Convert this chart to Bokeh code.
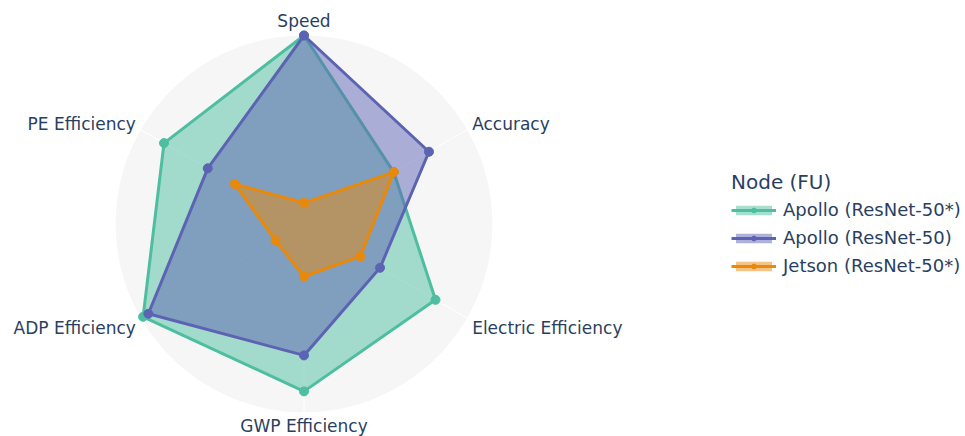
import numpy as np
from bokeh.plotting import figure
from bokeh.models import Range1d, Legend, LegendItem, ColumnDataSource
from bokeh.embed import file_html
from bokeh.resources import INLINE

# ---------------- data ----------------
categories = ["Speed", "Accuracy", "Electric Efficiency", "GWP Efficiency",
              "ADP Efficiency", "PE Efficiency"]
series_names = ["Apollo (ResNet-50*)", "Apollo (ResNet-50)", "Jetson (ResNet-50*)"]
apollo_star = [1.0, 0.55, 0.806, 0.889, 0.986, 0.858]
apollo = [1.0, 0.766, 0.466, 0.698, 0.954, 0.59]
jetson = [0.112, 0.55, 0.345, 0.279, 0.175, 0.424]
radial_max = 1.0

series_values = [apollo_star, apollo, jetson]
colors = ["#4dbe9f", "#5d63b3", "#e8890c"]
TEXT = "#2a3f5f"
FONT = "DejaVu Sans"

# ---------------- geometry ----------------
W, H = 965, 436
CX, CY, R = 303.5, 223.4, 188.4   # centre and radius in canvas px
x0 = -CX / R
x1 = (W - CX) / R
y1 = CY / R
y0 = -(H - CY) / R

p = figure(width=W, height=H, output_backend="svg", toolbar_location=None,
           x_range=Range1d(x0, x1), y_range=Range1d(y0, y1),
           min_border=0, background_fill_color="white", border_fill_color="white")
p.axis.visible = False
p.grid.visible = False
p.outline_line_color = None

n = len(categories)
theta = np.deg2rad(90 - 60 * np.arange(n))
cs, sn = np.cos(theta), np.sin(theta)

# background disc
p.circle(x=[0], y=[0], radius=radial_max, fill_color="#f6f6f6", line_color=None)
# angular grid lines
p.segment(x0=[0] * n, y0=[0] * n, x1=list(cs * radial_max), y1=list(sn * radial_max),
          line_color="white", line_width=1)

legend_items = []
for name, vals, col in zip(series_names, series_values, colors):
    r = np.array(vals)
    xs = list(r * cs)
    ys = list(r * sn)
    pr = p.patch(xs, ys, fill_color=col, fill_alpha=0.5, line_color=None)
    lr = p.line(xs + xs[:1], ys + ys[:1], line_color=col, line_width=3, line_join="round")
    sr = p.scatter(xs, ys, size=9, fill_color=col, line_color=col)
    legend_items.append(LegendItem(label=name, renderers=[pr, lr, sr]))

# category labels
aligns, xoffs, yoffs = [], [], []
for c, s in zip(cs, sn):
    if c > 0.1:
        aligns.append("left"); xoffs.append(5)
    elif c < -0.1:
        aligns.append("right"); xoffs.append(-5)
    else:
        aligns.append("center"); xoffs.append(0)
    if s > 0.9:
        yoffs.append(-15)
    elif s < -0.9:
        yoffs.append(14)
    elif s > 0:
        yoffs.append(-6)
    else:
        yoffs.append(10)

lab_src = ColumnDataSource(dict(x=list(cs * radial_max), y=list(sn * radial_max),
                                text=categories, align=aligns, xo=xoffs, yo=yoffs))
p.text(x="x", y="y", text="text", source=lab_src, text_align="align",
       text_baseline="alphabetic", x_offset="xo", y_offset="yo",
       text_font_size="17px", text_color=TEXT, text_font={"value": FONT})

legend = Legend(items=legend_items, location=(731, 160), title="Node (FU)",
                title_text_font_size="20px", title_text_color=TEXT,
                title_text_font=FONT, title_text_font_style="normal",
                label_text_font_size="18px", label_text_color=TEXT, label_text_font=FONT,
                glyph_width=45, glyph_height=12, label_height=20, spacing=7,
                label_standoff=7, padding=0, margin=0,
                border_line_color=None, background_fill_alpha=0)
p.add_layout(legend)

open("out.html", "w").write(file_html(p, INLINE))
